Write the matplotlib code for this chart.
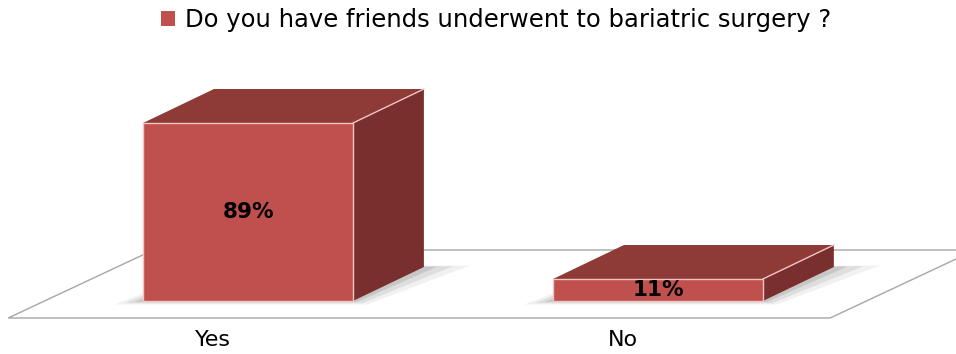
import numpy as np
import matplotlib.pyplot as plt
from matplotlib.patches import Patch

categories = ['Yes', 'No']
values = [89, 11]
labels = ['89%', '11%']
series_name = 'Do you have friends underwent to bariatric surgery ?'

front_c = '#C0504D'
top_c = '#8E3A37'
side_c = '#782F2D'

fig = plt.figure(figsize=(9.56, 3.54), dpi=100)
ax = fig.add_axes([0, 0, 1, 1])
ax.set_xlim(-0.605, 1.727)
ax.set_ylim(-26.5, 150.5)
ax.axis('off')

# 3d-ish geometry
bar_w = 0.512
dx, dy = 0.173, 17.0

# floor
fl_front, fl_back = -8.5, 25.5
fl_left, fl_right, fl_dx = -0.585, 1.42, 0.354
floor = np.array([(fl_left, fl_front), (fl_right, fl_front),
                  (fl_right + fl_dx, fl_back), (fl_left + fl_dx, fl_back)])
ax.fill(floor[:, 0], floor[:, 1], facecolor='white', edgecolor='#A6A6A6', lw=1.0, zorder=1)

for i, v in enumerate(values):
    x0, x1 = i - bar_w / 2, i + bar_w / 2
    # soft shadow under the box
    for k, a in zip([0.07, 0.045, 0.02], [0.07, 0.1, 0.14]):
        sh = np.array([(x0 - k, -k * 25), (x1 + k * 0.5, -k * 25),
                       (x1 + dx + k * 1.6, dy + k * 10), (x0 + dx, dy + k * 10)])
        ax.fill(sh[:, 0], sh[:, 1], color='#404040', alpha=a, lw=0, zorder=2)
    front = np.array([(x0, 0), (x1, 0), (x1, v), (x0, v)])
    top = np.array([(x0, v), (x1, v), (x1 + dx, v + dy), (x0 + dx, v + dy)])
    side = np.array([(x1, 0), (x1 + dx, dy), (x1 + dx, v + dy), (x1, v)])
    ax.fill(side[:, 0], side[:, 1], color=side_c, lw=0, zorder=3)
    ax.fill(top[:, 0], top[:, 1], color=top_c, lw=0, zorder=3)
    ax.fill(front[:, 0], front[:, 1], facecolor=front_c, edgecolor='#F2C4C2', lw=1.0, zorder=4)
    ax.plot([x1, x1 + dx], [v, v + dy], color='#F2C4C2', lw=1.0, zorder=5)
    ax.text(i, v / 2, labels[i], ha='center', va='center', fontsize=15.5,
            fontweight='bold', color='black', zorder=6)
    ax.text(i - 0.085, -19.5, categories[i], ha='center', va='center',
            fontsize=16, color='black', zorder=6)

fig.legend(handles=[Patch(facecolor=front_c, edgecolor='none')], labels=[series_name],
           loc='center', bbox_to_anchor=(0.519, 0.943), frameon=False,
           prop={'family': 'DejaVu Sans', 'size': 17.5}, handlelength=0.6, handleheight=0.6,
           handletextpad=0.4)

fig.savefig('out.png', dpi=100)
